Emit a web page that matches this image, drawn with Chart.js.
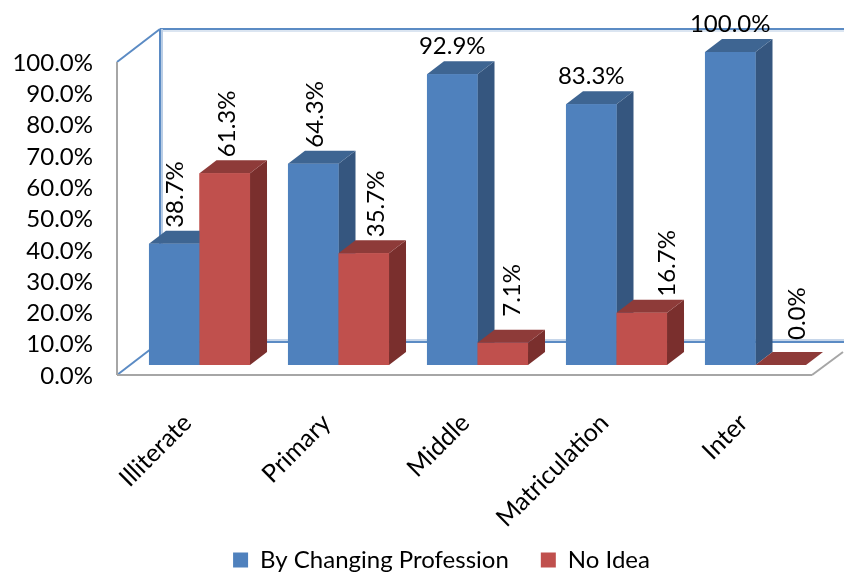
<!DOCTYPE html>
<html>
<head>
<meta charset="utf-8">
<title>Chart</title>
<script src="https://cdn.jsdelivr.net/npm/chart.js@4"></script>
<style>
  body { margin: 0; background: #fff; }
  canvas { display: block; }
</style>
</head>
<body>
<canvas id="myChart" width="844" height="572"></canvas>
<script>
var categories = ['Illiterate', 'Primary', 'Middle', 'Matriculation', 'Inter'];
var changingProfession = [38.7, 64.3, 92.9, 83.3, 100.0];
var noIdea = [61.3, 35.7, 7.1, 16.7, 0.0];
var yTicks = [0, 10, 20, 30, 40, 50, 60, 70, 80, 90, 100];

// depth of the fake 3d box, in pixels
var depthX = 17, depthY = 13;
// walls sit a bit further out than the bars
var wallFrontX = 13, wallFrontY = 10;

var sideColors = ['#35567f', '#7a2f2d'];
var topColors = ['#3e6592', '#8e3b39'];
var labelFont = '24px Lato';

// nudges for the value labels, dataset then category
var labelShift = [[1, 2, 0, 0, 0], [3, 13, 10, 26, 17]];
var labelGap = [[3, 3, 15, 15, 15], [3, 3, 13, 3, 12]];

function face(ctx, points, color) {
  ctx.fillStyle = color;
  ctx.beginPath();
  points.forEach(function (p, i) {
    if (i === 0) ctx.moveTo(p[0], p[1]); else ctx.lineTo(p[0], p[1]);
  });
  ctx.closePath();
  ctx.fill();
}

function line(ctx, x1, y1, x2, y2, color) {
  ctx.strokeStyle = color;
  ctx.lineWidth = 2;
  ctx.beginPath();
  ctx.moveTo(x1, y1);
  ctx.lineTo(x2, y2);
  ctx.stroke();
}

var boxPlugin = {
  id: 'box3d',
  // the legend sits off centre, low in the canvas
  afterLayout: function (chart) {
    chart.legend.left += 29;
    chart.legend.right += 29;
    chart.legend.top -= 20;
    chart.legend.bottom -= 20;
  },
  beforeDatasetsDraw: function (chart) {
    var ctx = chart.ctx, y = chart.scales.y, x = chart.scales.x;
    var left = x.left - wallFrontX, right = x.right - wallFrontX;
    var top = y.getPixelForValue(100) + wallFrontY, bottom = y.getPixelForValue(0) + wallFrontY;
    var backX = left + 43, backDy = 33;
    ctx.save();
    // back wall
    line(ctx, backX + 2, top - backDy + 2, chart.width, top - backDy + 2, '#dbe5f1');
    line(ctx, backX, top - backDy, chart.width, top - backDy, '#5b8bc4');
    line(ctx, backX + 2, top - backDy, backX + 2, bottom - backDy, '#b9cde5');
    line(ctx, backX, top - backDy, backX, bottom - backDy, '#5b8bc4');
    line(ctx, backX, bottom - backDy - 2, chart.width, bottom - backDy - 2, '#c6d6ea');
    line(ctx, backX, bottom - backDy, chart.width, bottom - backDy, '#5b8bc4');
    // left wall and floor
    line(ctx, left, top, backX, top - backDy, '#5b8bc4');
    line(ctx, left, bottom, backX, bottom - backDy, '#5b8bc4');
    line(ctx, left, top, left, bottom, '#a6a6a6');
    line(ctx, left, bottom, right, bottom, '#a6a6a6');
    line(ctx, right, bottom, right + 31, bottom - 23, '#a6a6a6');
    ctx.restore();
  },
  afterDatasetsDraw: function (chart) {
    var ctx = chart.ctx;
    ctx.save();
    // left to right so a red top lands over the blue side next to it
    categories.forEach(function (_, i) {
      chart.data.datasets.forEach(function (ds, d) {
        var bar = chart.getDatasetMeta(d).data[i];
        var l = bar.x - bar.width / 2, r = bar.x + bar.width / 2;
        face(ctx, [[r, bar.y], [r + depthX, bar.y - depthY], [r + depthX, bar.base - depthY], [r, bar.base]], sideColors[d]);
        face(ctx, [[l, bar.y], [l + depthX, bar.y - depthY], [r + depthX, bar.y - depthY], [r, bar.y]], topColors[d]);
        bar.draw(ctx);
      });
    });
    // value labels
    ctx.fillStyle = '#000';
    ctx.font = labelFont;
    chart.data.datasets.forEach(function (ds, d) {
      chart.getDatasetMeta(d).data.forEach(function (bar, i) {
        var text = ds.data[i].toFixed(1) + '%';
        var shift = labelShift[d][i];
        var backTop = bar.y - depthY;
        ctx.save();
        if (ds.data[i] > 80) {
          ctx.textAlign = 'center';
          ctx.textBaseline = 'middle';
          ctx.fillText(text, bar.x + shift, backTop - labelGap[d][i]);
        } else {
          ctx.translate(bar.x + shift, backTop - labelGap[d][i]);
          ctx.rotate(-Math.PI / 2);
          ctx.textAlign = 'left';
          ctx.textBaseline = 'middle';
          ctx.fillText(text, 0, 0);
        }
        ctx.restore();
      });
    });
    ctx.restore();
  }
};

var myChart = new Chart(document.getElementById('myChart'), {
  type: 'bar',
  data: {
    labels: categories,
    datasets: [{
      label: 'By Changing Profession',
      data: changingProfession,
      backgroundColor: '#4f81bd'
    }, {
      label: 'No Idea',
      data: noIdea,
      backgroundColor: '#c0504d'
    }]
  },
  options: {
    responsive: false,
    animation: false,
    devicePixelRatio: 1,
    categoryPercentage: 0.727,
    barPercentage: 1,
    layout: { padding: { left: 0, right: 19, top: 52, bottom: -30 } },
    plugins: {
      tooltip: { enabled: false },
      title: { display: false },
      legend: {
        position: 'bottom',
        labels: {
          boxWidth: 15,
          boxHeight: 15,
          padding: 32,
          color: '#000',
          font: { family: 'Lato', size: 24 }
        }
      }
    },
    scales: {
      x: {
        grid: { display: false, drawTicks: false },
        border: { display: false },
        afterFit: function (scale) { scale.height = 237 - scale.chart.legend.height; },
        ticks: {
          minRotation: 45,
          maxRotation: 45,
          padding: 43,
          labelOffset: -12,
          color: '#000',
          font: { family: 'Lato', size: 25 }
        }
      },
      y: {
        min: 0,
        max: 100,
        afterFit: function (scale) { scale.width = 130; },
        afterBuildTicks: function (scale) {
          scale.ticks = yTicks.map(function (v) { return { value: v }; });
        },
        grid: { display: false, drawTicks: false },
        border: { display: false },
        ticks: {
          autoSkip: false,
          padding: 37,
          labelOffset: 11,
          color: '#000',
          font: { family: 'Lato', size: 24 },
          callback: function (v) { return v.toFixed(1) + '%'; }
        }
      }
    }
  },
  plugins: [boxPlugin]
});
</script>
</body>
</html>
